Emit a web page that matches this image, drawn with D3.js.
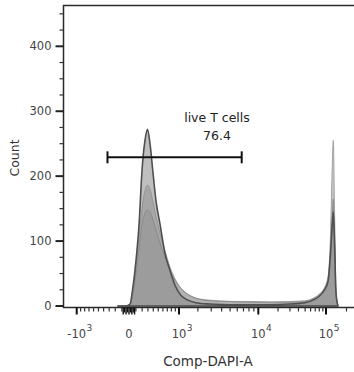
<!DOCTYPE html>
<html>
<head>
    <title>Comp-DAPI-A histogram</title>
    <script src="https://cdn.jsdelivr.net/npm/d3@7"></script>
    <style>
        body { margin: 0; background: #fff; }
        text { font-family: "DejaVu Sans", sans-serif; }
    </style>
</head>
<body>
    <div id="chart"></div>
    <script type="text/javascript">
        // bin positions (Comp-DAPI-A fluorescence), shared by every overlay
        var binValues = [-160, -40, 14, 57, 102, 149, 197, 248, 292, 338, 395, 454, 537, 647, 765, 892,
            1090, 1430, 1880, 2890, 4990, 8200, 15100, 30100, 49800, 65000, 79300, 93600,
            107000, 116500, 122600, 128100, 133400, 140300, 150200];

        // counts per bin, one array per overlaid sample
        var countsLight = [0, 0, 2, 22, 60, 105, 150, 178, 186, 180, 160, 138, 112, 85, 60, 42,
            27, 17, 12, 9, 7, 7, 6, 7, 8, 12, 18, 27, 45, 110, 200, 255, 150, 25, 0];
        var countsMid = [0, 0, 2, 18, 50, 88, 125, 143, 148, 145, 132, 117, 97, 75, 55, 40,
            27, 18, 12, 8, 7, 6, 6, 6, 7, 10, 15, 22, 35, 80, 130, 165, 100, 18, 0];
        var countsDark = [0, 0, 3, 30, 70, 125, 208, 255, 272, 250, 205, 162, 126, 81, 55, 32,
            16, 9, 5, 3, 2, 2, 2, 3, 5, 9, 15, 24, 38, 80, 120, 145, 100, 20, 0];

        var yTicks = [0, 100, 200, 300, 400];
        var yMinor = [25, 50, 75, 125, 150, 175, 225, 250, 275, 325, 350, 375, 425, 450];
        var xMajor = [-1000, 1000, 10000, 100000];
        var xLabels = [
            { v: -1000, base: "-10", exp: "3" },
            { v: 0, base: "0", exp: "" },
            { v: 1000, base: "10", exp: "3" },
            { v: 10000, base: "10", exp: "4" },
            { v: 100000, base: "10", exp: "5" }
        ];
        var xMinor = [-900, -800, -700, -600, -500, -400, -300, -200, -100,
            100, 200, 300, 400, 500, 600, 700, 800, 900,
            2000, 3000, 4000, 5000, 6000, 7000, 8000, 9000,
            20000, 30000, 40000, 50000, 60000, 70000, 80000, 90000, 200000];
        var xZero = [-80, -60, -40, -20, 0, 20, 40, 60, 80];

        var gate = { name: "live T cells", pct: "76.4", from: -330, to: 6700, level: 229 };

        var width = 354, height = 372;
        var plotLeft = 63.5, plotTop = 5.5, plotRight = 356, plotBottom = 307.5;

        // biexponential-like display: symlog, piecewise to follow the decade spacing
        var x = d3.scaleSymlog().constant(1000)
            .domain([-1000, 0, 1000, 10000, 100000, 262144])
            .range([76.7, 129, 179, 258.3, 326, 354.5]);

        var y = d3.scaleLinear()
            .domain([0, 400])
            .range([306, 46.3]);

        var svg = d3.select("#chart").append("svg")
            .attr("width", width)
            .attr("height", height);

        svg.append("clipPath").attr("id", "plotclip")
            .append("rect")
            .attr("x", plotLeft).attr("y", plotTop)
            .attr("width", plotRight - plotLeft).attr("height", plotBottom - plotTop);

        var area = d3.area()
            .x(function(d, i) { return x(binValues[i]); })
            .y0(y(0))
            .y1(function(d) { return y(d); })
            .curve(d3.curveMonotoneX);

        var series = [
            { counts: countsLight, fill: "#b4b4b4", op: 0.75, stroke: "#a0a0a0", sw: 1 },
            { counts: countsMid, fill: "#9a9a9a", op: 0.45, stroke: "#8a8a8a", sw: 1 },
            { counts: countsDark, fill: "#8a8a8a", op: 0.55, stroke: "#4f4f4f", sw: 1.6 }
        ];

        var plot = svg.append("g").attr("clip-path", "url(#plotclip)");
        plot.selectAll("path.hist")
            .data(series)
            .enter().append("path")
                .attr("class", "hist")
                .attr("d", function(s) { return area(s.counts); })
                .attr("fill", function(s) { return s.fill; })
                .attr("fill-opacity", function(s) { return s.op; })
                .attr("stroke", function(s) { return s.stroke; })
                .attr("stroke-width", function(s) { return s.sw; })
                .attr("stroke-linejoin", "round");

        // frame
        svg.append("path")
            .attr("d", "M" + plotRight + "," + plotTop + "H" + plotLeft + "V" + plotBottom + "H" + plotRight)
            .attr("fill", "none")
            .attr("stroke", "#2a2a2a")
            .attr("stroke-width", 1.5);

        // y axis ticks
        svg.append("g").selectAll("line")
            .data(yMinor)
            .enter().append("line")
                .attr("x1", plotLeft - 4).attr("x2", plotLeft)
                .attr("y1", function(d) { return y(d); })
                .attr("y2", function(d) { return y(d); })
                .attr("stroke", "#333").attr("stroke-width", 1.2);

        svg.append("g").selectAll("line")
            .data(yTicks)
            .enter().append("line")
                .attr("x1", plotLeft - 8).attr("x2", plotLeft)
                .attr("y1", function(d) { return y(d); })
                .attr("y2", function(d) { return y(d); })
                .attr("stroke", "#222").attr("stroke-width", 2);

        svg.append("g").selectAll("text")
            .data(yTicks)
            .enter().append("text")
                .attr("x", plotLeft - 12)
                .attr("y", function(d) { return y(d) + 4; })
                .attr("text-anchor", "end")
                .attr("font-size", "11.5px")
                .attr("fill", "#444")
                .text(function(d) { return d; });

        svg.append("text")
            .attr("transform", "translate(19," + 158 + ") rotate(-90)")
            .attr("text-anchor", "middle")
            .attr("font-size", "12.5px")
            .attr("fill", "#333")
            .text("Count");

        // x axis ticks
        svg.append("g").selectAll("line")
            .data(xMinor)
            .enter().append("line")
                .attr("x1", function(d) { return x(d); })
                .attr("x2", function(d) { return x(d); })
                .attr("y1", plotBottom).attr("y2", plotBottom + 4)
                .attr("stroke", "#333").attr("stroke-width", 1.2);

        svg.append("g").selectAll("line")
            .data(xZero)
            .enter().append("line")
                .attr("x1", function(d) { return x(d); })
                .attr("x2", function(d) { return x(d); })
                .attr("y1", plotBottom).attr("y2", function(d, i) { return plotBottom + (i % 2 ? 5 : 7); })
                .attr("stroke", "#111").attr("stroke-width", 1.4);

        svg.append("g").selectAll("line")
            .data(xMajor)
            .enter().append("line")
                .attr("x1", function(d) { return x(d); })
                .attr("x2", function(d) { return x(d); })
                .attr("y1", plotBottom).attr("y2", plotBottom + 7)
                .attr("stroke", "#111").attr("stroke-width", 2);

        var xl = svg.append("g").selectAll("g")
            .data(xLabels)
            .enter().append("g")
                .attr("transform", function(d) { return "translate(" + x(d.v) + ",338)"; });

        xl.append("text")
            .attr("text-anchor", "middle")
            .attr("font-size", "11.5px")
            .attr("fill", "#444")
            .text(function(d) { return d.base; });

        xl.append("text")
            .attr("x", function(d) { return this.parentNode.firstChild.getComputedTextLength() / 2 + 0.5; })
            .attr("y", -7)
            .attr("font-size", "9px")
            .attr("fill", "#444")
            .text(function(d) { return d.exp; });

        svg.append("text")
            .attr("x", 208)
            .attr("y", 366)
            .attr("text-anchor", "middle")
            .attr("font-size", "13.5px")
            .attr("fill", "#333")
            .text("Comp-DAPI-A");

        // gate
        var gy = y(gate.level);
        var g = svg.append("g").attr("stroke", "#111").attr("stroke-width", 2);
        g.append("line")
            .attr("x1", x(gate.from)).attr("x2", x(gate.to))
            .attr("y1", gy).attr("y2", gy);
        g.selectAll("line.end")
            .data([gate.from, gate.to])
            .enter().append("line")
                .attr("class", "end")
                .attr("x1", function(d) { return x(d); })
                .attr("x2", function(d) { return x(d); })
                .attr("y1", gy - 6).attr("y2", gy + 6);

        var gx = 217;
        svg.append("text")
            .attr("x", gx).attr("y", 122)
            .attr("text-anchor", "middle")
            .attr("font-size", "12.5px")
            .attr("fill", "#222")
            .text(gate.name);
        svg.append("text")
            .attr("x", gx).attr("y", 140)
            .attr("text-anchor", "middle")
            .attr("font-size", "12.5px")
            .attr("fill", "#222")
            .text(gate.pct);
    </script>
</body>
</html>
